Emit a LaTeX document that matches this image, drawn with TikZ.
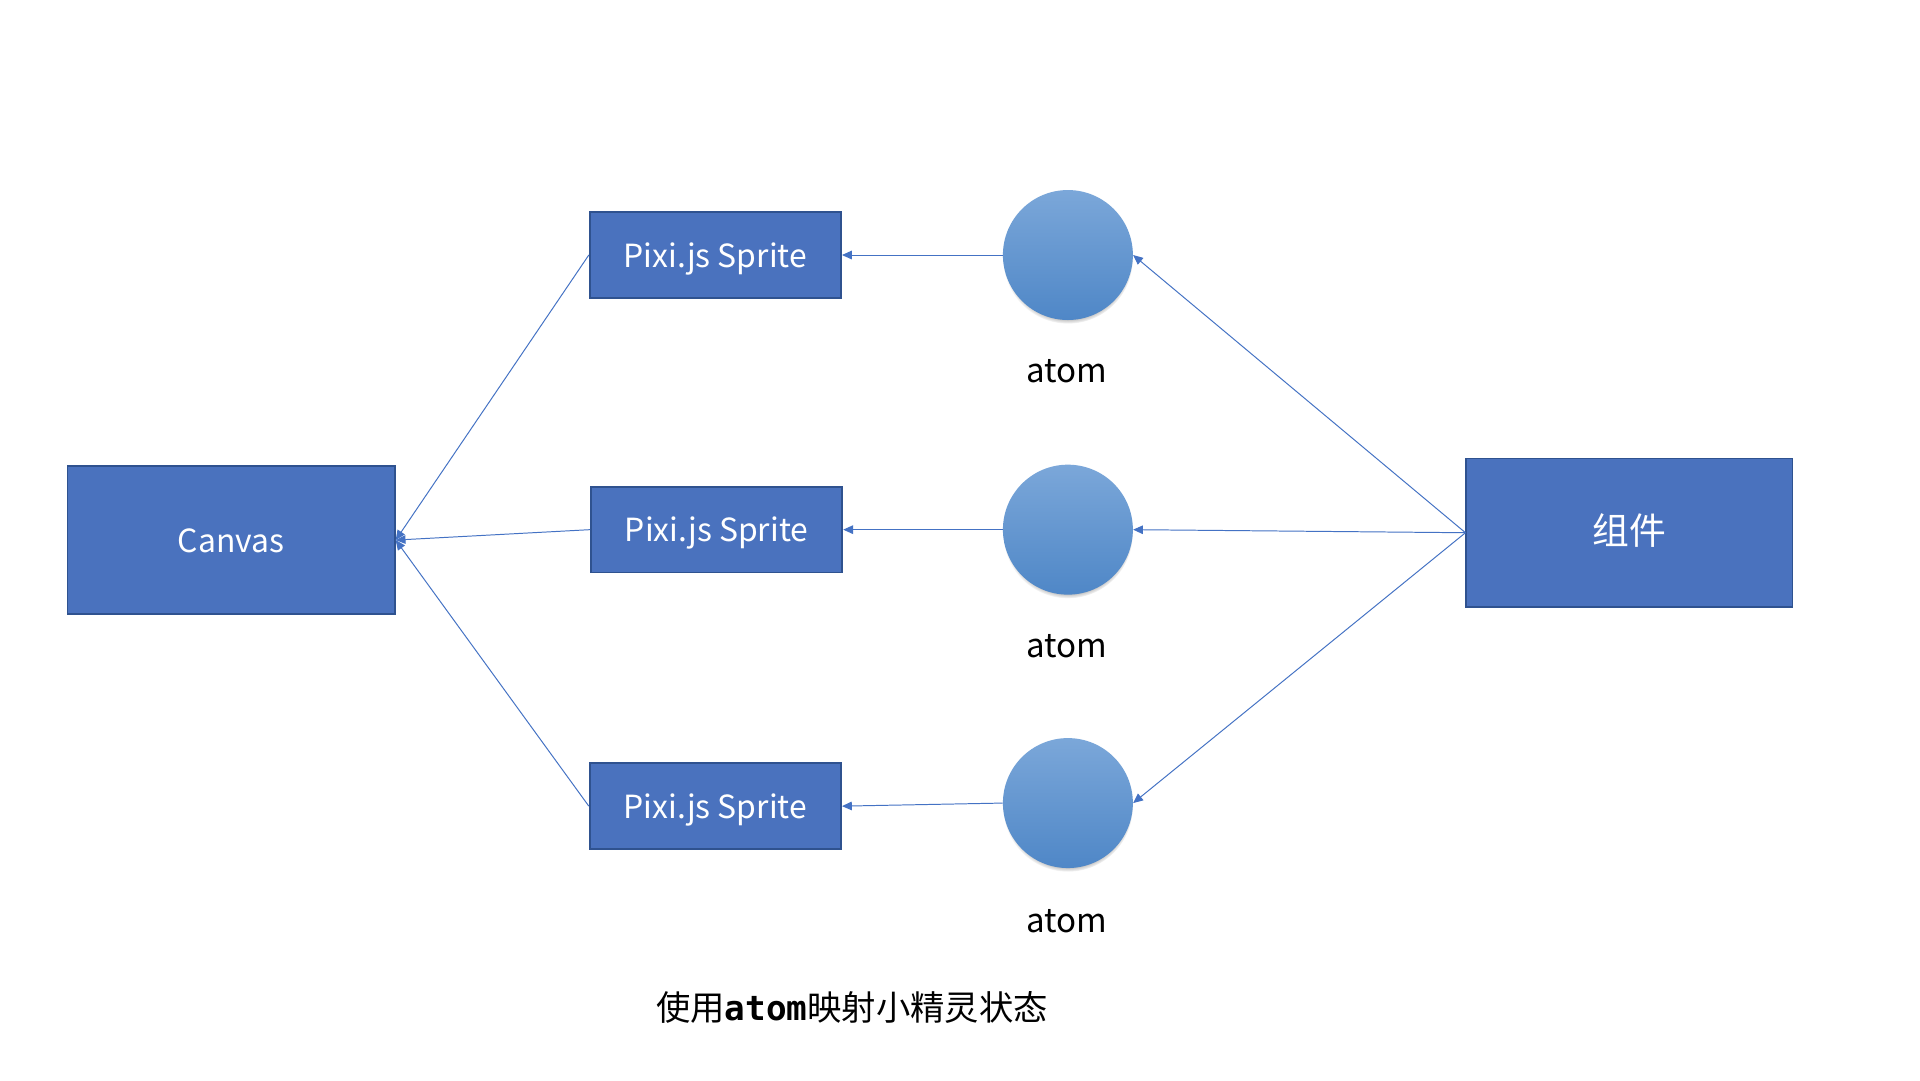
\documentclass[tikz,border=0pt]{standalone}
\usepackage{fontspec}
\setmainfont{Noto Sans CJK SC}
\newfontfamily\cjk{Noto Sans CJK SC}
\setmonofont{DejaVu Sans Mono}
\usetikzlibrary{arrows.meta,shadows}
\definecolor{boxfill}{HTML}{4A72BE}
\definecolor{boxline}{HTML}{2F528F}
\definecolor{lineblue}{HTML}{4472C4}
\definecolor{ctop}{HTML}{7BA7D9}
\definecolor{cbot}{HTML}{4F87C7}
\begin{document}
\begin{tikzpicture}[x=1pt,y=-1pt,
 box/.style={draw=boxline,line width=1.5pt,fill=boxfill,text=white,font=\fontsize{26}{30}\selectfont,inner sep=0pt,text depth=2pt,text height=22pt},
 atomc/.style={circle,minimum size=106pt,inner sep=0pt,top color=ctop,bottom color=cbot,draw=none,
   circular drop shadow={shadow xshift=0pt,shadow yshift=-3pt,shadow scale=1.0}},
 conn/.style={draw=lineblue,line width=0.8pt,-{Triangle[length=8pt,width=7pt]}},
 lbl/.style={font=\fontsize{27}{31}\selectfont}]
\useasboundingbox (0,0) rectangle (1566,881);
\fill[white] (0,0) rectangle (1566,881);
\node[box,minimum width=267pt,minimum height=121pt] (canvas) at (188.5,440.5) {Canvas};
\node[box,minimum width=205pt,minimum height=70pt] (s1) at (583.5,208) {Pixi.js Sprite};
\node[box,minimum width=205pt,minimum height=70pt] (s2) at (584.5,432) {Pixi.js Sprite};
\node[box,minimum width=205pt,minimum height=70pt] (s3) at (583.5,657.5) {Pixi.js Sprite};
\node[box,minimum width=266pt,minimum height=121pt,font=\fontsize{30}{34}\selectfont] (comp) at (1329,434.5) {\cjk 组件};
\node[atomc] (c1) at (871,208) {};
\node[atomc] (c2) at (871,432) {};
\node[atomc] (c3) at (871,655) {};
\node[lbl] (a1) at (870,303) {atom};
\node[lbl] (a2) at (870,527) {atom};
\node[lbl] (a3) at (870,751) {atom};
\node[lbl,font=\fontsize{28}{32}\selectfont] (cap) at (695,822) {\cjk 使用{\ttfamily\bfseries atom}映射小精灵状态};
\draw[conn] (c1.west) -- (s1.east);
\draw[conn] (c2.west) -- (s2.east);
\draw[conn] (c3.west) -- (s3.east);
\draw[conn] (comp.west) -- (c1.east);
\draw[conn] (comp.west) -- (c2.east);
\draw[conn] (comp.west) -- (c3.east);
\draw[conn] (s1.west) -- (canvas.east);
\draw[conn] (s2.west) -- (canvas.east);
\draw[conn] (s3.west) -- (canvas.east);
\end{tikzpicture}
\end{document}
